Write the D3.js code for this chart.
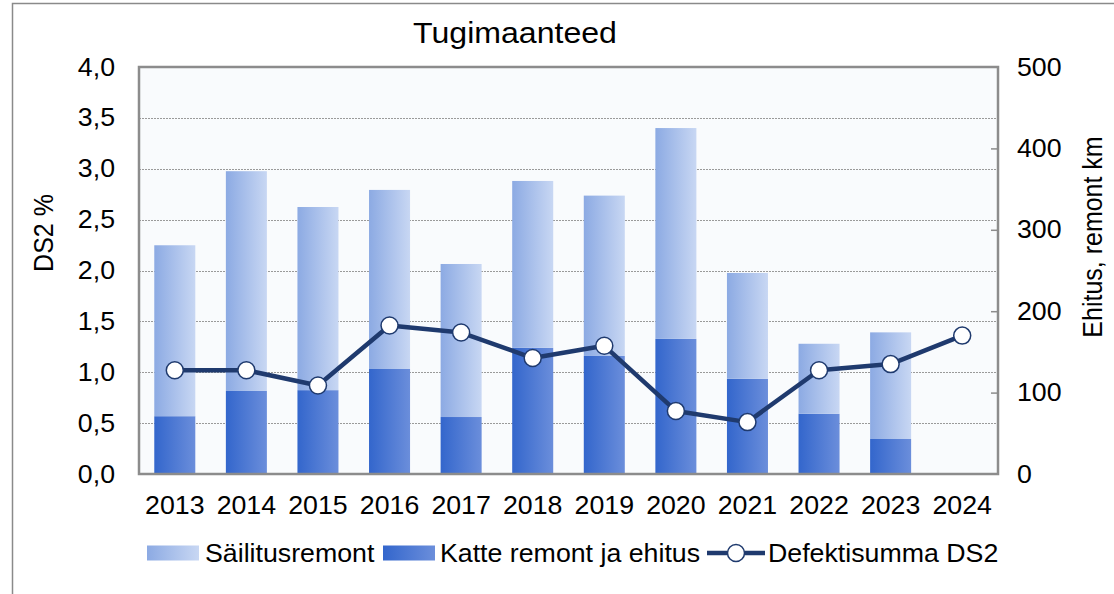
<!DOCTYPE html>
<html>
<head>
<meta charset="utf-8">
<script src="https://cdn.jsdelivr.net/npm/d3@7"></script>
<style>
  body { margin: 0; background: #fff; }
  svg { display: block; font-family: "Liberation Sans", Arial, sans-serif; }
  .axis text { fill: #000; font-size: 25px; }
  .axis path, .axis line { display: none; }
</style>
</head>
<body>
<div id="chart"></div>
<script>
// Data
const years = ['2013', '2014', '2015', '2016', '2017', '2018', '2019', '2020', '2021', '2022', '2023', '2024'];
const sailitus = [210, 270, 225, 220, 188, 205, 197, 259, 130, 86, 131, 0];   // km, light part
const katte = [71, 102, 103, 129, 70, 155, 145, 166, 117, 74, 43, 0];        // km, dark part
const ds2 = [1.02, 1.02, 0.87, 1.46, 1.39, 1.14, 1.26, 0.62, 0.51, 1.02, 1.08, 1.36]; // %
const leftTicks = [0, 0.5, 1, 1.5, 2, 2.5, 3, 3.5, 4];
const rightTicks = [0, 100, 200, 300, 400, 500];

const W = 1114, H = 594;
const plot = { left: 139, right: 998, top: 67, bottom: 474 };
const SX = 1.07; // text in the original is a bit wider than it is tall

const svg = d3.select('#chart').append('svg')
    .attr('width', W)
    .attr('height', H);

// widen text horizontally around its own x
function stretch(sel) {
    sel.each(function () {
        const t = d3.select(this);
        const x0 = +t.attr('x') || 0;
        t.attr('x', x0 / SX).attr('transform', `scale(${SX},1)`);
    });
}

// Gradients for the bars
const defs = svg.append('defs');
function grad(id, c1, c2) {
    const g = defs.append('linearGradient').attr('id', id)
        .attr('x1', '0%').attr('x2', '100%').attr('y1', '0%').attr('y2', '0%');
    g.append('stop').attr('offset', '0%').attr('stop-color', c1);
    g.append('stop').attr('offset', '100%').attr('stop-color', c2);
}
grad('gLight', '#8caae3', '#c8d7f3');
grad('gDark', '#3366cc', '#6b8edb');

// Outer frame (only top and left edges visible)
svg.append('path')
    .attr('d', `M12.5,${H} V3.5 H${W}`)
    .attr('fill', 'none')
    .attr('stroke', '#8a8a8a')
    .attr('stroke-width', 1.5);

// Scales
const x = d3.scaleBand()
    .domain(years)
    .range([plot.left, plot.right])
    .paddingInner(0.427)
    .paddingOuter(0.2135);

const yLeft = d3.scaleLinear().domain([0, 4]).range([plot.bottom, plot.top]);
const yRight = d3.scaleLinear().domain([0, 500]).range([plot.bottom, plot.top]);

// Plot background
svg.append('rect')
    .attr('x', plot.left).attr('y', plot.top)
    .attr('width', plot.right - plot.left)
    .attr('height', plot.bottom - plot.top)
    .attr('fill', '#f9fbfd');

// Gridlines
svg.append('g')
    .selectAll('line')
    .data(leftTicks.filter(d => d > 0 && d < 4))
    .enter()
    .append('line')
    .attr('x1', plot.left).attr('x2', plot.right)
    .attr('y1', d => Math.round(yLeft(d)) + 0.5)
    .attr('y2', d => Math.round(yLeft(d)) + 0.5)
    .attr('stroke', '#9a9a9a')
    .attr('stroke-width', 1)
    .attr('stroke-dasharray', '2,1');

// Stacked bars
const rows = years.map((y, i) => ({ year: y, katte: katte[i], sailitus: sailitus[i] }));
const stack = d3.stack().keys(['katte', 'sailitus'])(rows);
const fills = { katte: 'url(#gDark)', sailitus: 'url(#gLight)' };

svg.append('g')
    .selectAll('g')
    .data(stack)
    .enter()
    .append('g')
    .attr('fill', s => fills[s.key])
    .selectAll('rect')
    .data(s => s)
    .enter()
    .append('rect')
    .attr('x', d => x(d.data.year))
    .attr('y', d => yRight(d[1]))
    .attr('width', x.bandwidth())
    .attr('height', d => yRight(d[0]) - yRight(d[1]));

// Plot border
svg.append('rect')
    .attr('x', plot.left).attr('y', plot.top)
    .attr('width', plot.right - plot.left)
    .attr('height', plot.bottom - plot.top)
    .attr('fill', 'none')
    .attr('stroke', '#8c8c8c')
    .attr('stroke-width', 2.5);

// Right axis inner tick marks
svg.append('g')
    .attr('transform', `translate(${plot.right},0)`)
    .call(d3.axisLeft(yRight).tickValues(rightTicks.filter(d => d > 0 && d < 500)).tickSize(7).tickFormat(''))
    .call(g => g.select('.domain').remove())
    .selectAll('line')
    .attr('stroke', '#8c8c8c')
    .attr('stroke-width', 1.5);

// DS2 line
const line = d3.line()
    .x((d, i) => x(years[i]) + x.bandwidth() / 2)
    .y(d => yLeft(d));

svg.append('path')
    .datum(ds2)
    .attr('d', line)
    .attr('fill', 'none')
    .attr('stroke', '#1f3a6e')
    .attr('stroke-width', 4.5)
    .attr('stroke-linejoin', 'round');

svg.append('g')
    .selectAll('circle')
    .data(ds2)
    .enter()
    .append('circle')
    .attr('cx', (d, i) => x(years[i]) + x.bandwidth() / 2)
    .attr('cy', d => yLeft(d))
    .attr('r', 8.5)
    .attr('fill', '#fff')
    .attr('stroke', '#1f3a6e')
    .attr('stroke-width', 1.5);

// Axes
svg.append('g')
    .attr('class', 'axis')
    .attr('transform', `translate(${plot.left},0)`)
    .call(d3.axisLeft(yLeft).tickValues(leftTicks).tickSize(0).tickPadding(24)
        .tickFormat(d => d3.format('.1f')(d).replace('.', ',')))
    .selectAll('text').call(stretch);

svg.append('g')
    .attr('class', 'axis')
    .attr('transform', `translate(${plot.right},0)`)
    .call(d3.axisRight(yRight).tickValues(rightTicks).tickSize(0).tickPadding(19))
    .selectAll('text').call(stretch);

svg.append('g')
    .attr('class', 'axis')
    .attr('transform', `translate(0,${plot.bottom})`)
    .call(d3.axisBottom(x).tickSize(0).tickPadding(22))
    .selectAll('text').call(stretch);

// Title
svg.append('text')
    .attr('x', 515)
    .attr('y', 43)
    .attr('text-anchor', 'middle')
    .style('font-size', '30px')
    .text('Tugimaanteed')
    .call(stretch);

// Axis titles
svg.append('text')
    .attr('transform', `translate(53,233) scale(${SX},1) rotate(-90)`)
    .attr('text-anchor', 'middle')
    .style('font-size', '25px')
    .text('DS2 %');

svg.append('text')
    .attr('transform', `translate(1102,237) scale(${SX},1) rotate(-90)`)
    .attr('text-anchor', 'middle')
    .style('font-size', '25px')
    .text('Ehitus, remont km');

// Legend
const legend = svg.append('g').attr('transform', 'translate(0,553)');
const legendItems = [
    { label: 'Säilitusremont', fill: 'url(#gLight)', x: 147, tx: 205 },
    { label: 'Katte remont ja ehitus', fill: 'url(#gDark)', x: 383, tx: 440 }
];
legendItems.forEach(it => {
    legend.append('rect')
        .attr('x', it.x).attr('y', -7.5)
        .attr('width', 52).attr('height', 15)
        .attr('fill', it.fill);
    legend.append('text')
        .attr('x', it.tx).attr('y', 9)
        .style('font-size', '25px')
        .text(it.label)
        .call(stretch);
});
legend.append('line')
    .attr('x1', 707).attr('x2', 765)
    .attr('y1', 0).attr('y2', 0)
    .attr('stroke', '#1f3a6e')
    .attr('stroke-width', 4.5);
legend.append('circle')
    .attr('cx', 736).attr('cy', 0).attr('r', 8.5)
    .attr('fill', '#fff')
    .attr('stroke', '#1f3a6e')
    .attr('stroke-width', 1.5);
legend.append('text')
    .attr('x', 768).attr('y', 9)
    .style('font-size', '25px')
    .text('Defektisumma DS2')
    .call(stretch);
</script>
</body>
</html>
